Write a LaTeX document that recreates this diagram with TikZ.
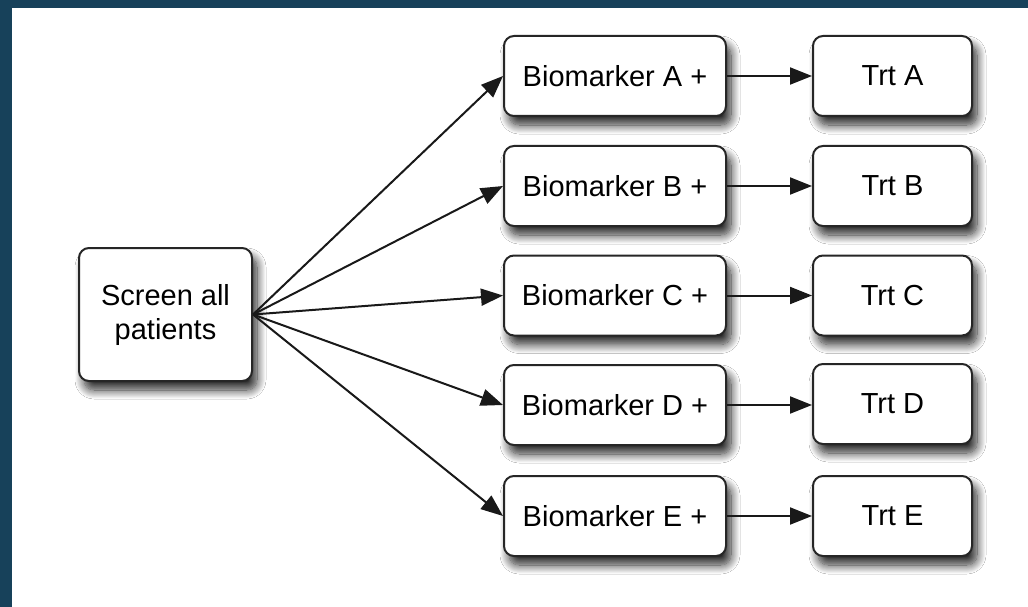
\documentclass[tikz,border=0pt]{standalone}
\usepackage{fontspec}
\setmainfont{Liberation Sans}
\usetikzlibrary{arrows.meta,shadows.blur}
\definecolor{framecol}{RGB}{23,65,90}
\tikzset{
 box/.style={draw=black!85, line width=2pt, rounded corners=10pt, fill=white,
   minimum height=80pt, align=center, font=\fontsize{29}{34}\selectfont, inner sep=0pt,
   blur shadow={shadow xshift=5pt, shadow yshift=-9pt, shadow blur radius=9pt,
                shadow blur steps=14, shadow opacity=85}},
 bio/.style={box, minimum width=222pt},
 trt/.style={box, minimum width=159pt},
 arr/.style={line width=2pt, draw=black!90, -{Triangle[length=22pt,width=17pt]}}
}
\begin{document}
\begin{tikzpicture}[x=1pt,y=-1pt]
\fill[white] (0,0) rectangle (1028,607);
\useasboundingbox (0,0) rectangle (1028,607);
\fill[framecol] (0,0) rectangle (1028,8);
\fill[framecol] (0,0) rectangle (12,607);

\node[box, minimum width=173pt, minimum height=133pt] (s) at (165.5,314.5) {Screen all\\patients};

\node[bio] (bA) at (615,76) {Biomarker A +};
\node[bio] (bB) at (615,186) {Biomarker B +};
\node[bio] (bC) at (615,295.5) {Biomarker C +};
\node[bio] (bD) at (615,405) {Biomarker D +};
\node[bio] (bE) at (615,516) {Biomarker E +};

\node[trt] (tA) at (892.5,76) {Trt A};
\node[trt] (tB) at (892.5,186) {Trt B};
\node[trt] (tC) at (892.5,295.5) {Trt C};
\node[trt] (tD) at (892.5,404) {Trt D};
\node[trt] (tE) at (892.5,516) {Trt E};

\foreach \n in {A,B,C,D,E}{
  \draw[arr] (s.east) -- (b\n.west);
  \draw[arr] (b\n.east) -- (t\n.west |- b\n.east);
}
\end{tikzpicture}
\end{document}
